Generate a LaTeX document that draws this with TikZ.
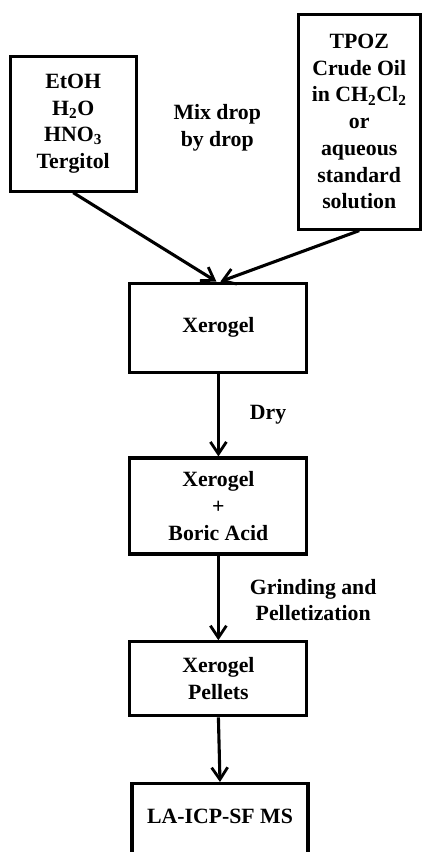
\documentclass[tikz,border=0pt]{standalone}
\usepackage{fontspec}
\setmainfont{Liberation Serif}
\usetikzlibrary{positioning,arrows.meta}

\tikzset{
  stepbox/.style={draw, line width=2.2pt, align=center, inner sep=2pt},
  steplabel/.style={align=center},
  flow/.style={-{Straight Barb[length=3mm,width=4mm,line width=2pt]}, line width=2.2pt}
}

\begin{document}
\begin{tikzpicture}[scale=1, font=\fontsize{15.5}{19}\selectfont\bfseries]
    \useasboundingbox (0,0) rectangle (10.55,21.3);
    % Starting materials
    \node[stepbox, minimum width=3.15cm, minimum height=3.375cm] (sol) at (1.83,18.21)
      {EtOH\\H\textsubscript{2}O\\HNO\textsubscript{3}\\Tergitol};
    \node[stepbox, minimum width=3.05cm, minimum height=5.375cm] (oil) at (8.98,18.26)
      {TPOZ\\Crude Oil\\in CH\textsubscript{2}Cl\textsubscript{2}\\or\\aqueous\\standard\\solution};
    \node[steplabel] (mix) at (5.43,18.10) {Mix drop\\by drop};
    % Process steps
    \node[stepbox, minimum width=4.425cm, minimum height=2.225cm] (xero) at (5.46,13.11) {Xerogel};
    \node[stepbox, minimum width=4.425cm, minimum height=2.4cm] (boric) at (5.46,8.65)
      {Xerogel\\+\\Boric Acid};
    \node[stepbox, minimum width=4.425cm, minimum height=1.85cm] (pel) at (5.46,4.33)
      {Xerogel\\Pellets};
    \node[stepbox, minimum width=4.4cm, anchor=north, inner ysep=0pt,
      text height=1.0cm, text depth=1.0cm] (ms) at (5.50,1.75) {LA-ICP-SF MS};
    \node[steplabel] (dry) at (6.70,10.93) {Dry};
    \node[steplabel] (grind) at (7.83,6.30) {Grinding and\\Pelletization};
    % Arrows
    \draw[flow] (sol.south) -- ([xshift=-0.05cm]xero.north);
    \draw[flow] (oil.south) -- ([xshift=0.05cm]xero.north);
    \draw[flow] (xero.south) -- (boric.north);
    \draw[flow] (boric.south) -- (pel.north);
    \draw[flow] (pel.south) -- (ms.north);
  \end{tikzpicture}
\end{document}
